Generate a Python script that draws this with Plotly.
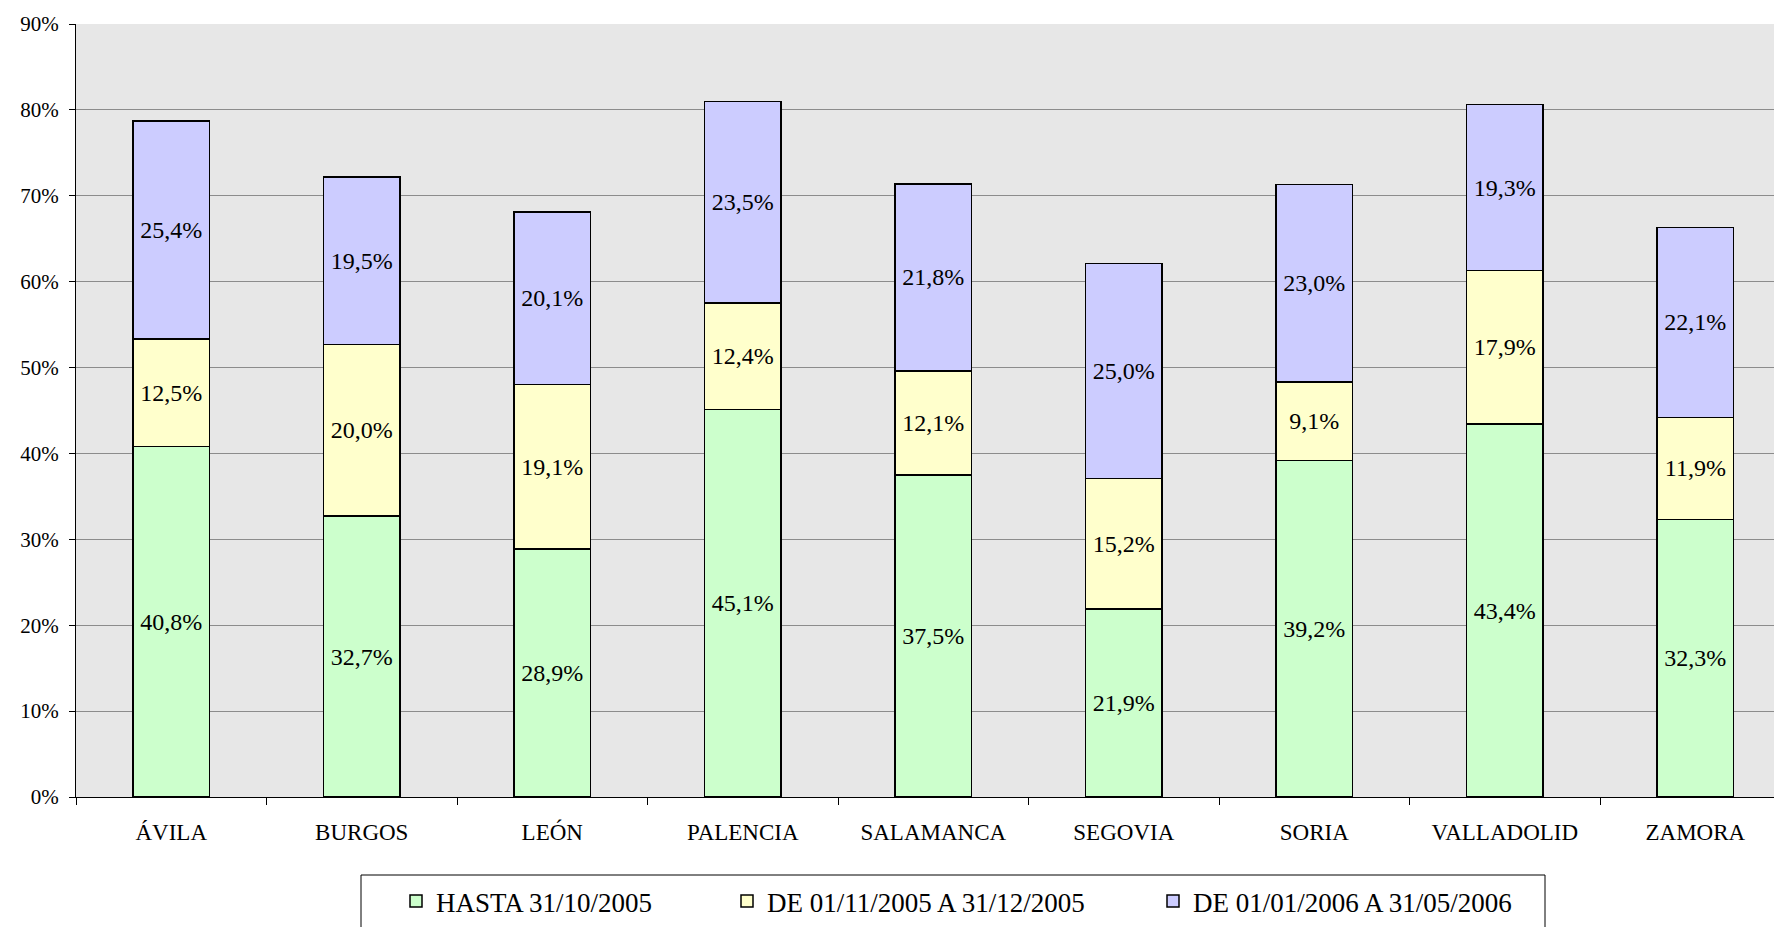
import plotly.graph_objects as go

# Provinces and shares (%) per period
provincias = ["ÁVILA", "BURGOS", "LEÓN", "PALENCIA", "SALAMANCA",
              "SEGOVIA", "SORIA", "VALLADOLID", "ZAMORA"]
hasta_oct_2005 = [40.8, 32.7, 28.9, 45.1, 37.5, 21.9, 39.2, 43.4, 32.3]
nov_dic_2005 = [12.5, 20.0, 19.1, 12.4, 12.1, 15.2, 9.1, 17.9, 11.9]
ene_may_2006 = [25.4, 19.5, 20.1, 23.5, 21.8, 25.0, 23.0, 19.3, 22.1]

series = [
    ("HASTA 31/10/2005", hasta_oct_2005, "#CCFFCC"),
    ("DE 01/11/2005 A 31/12/2005", nov_dic_2005, "#FFFFCC"),
    ("DE 01/01/2006 A 31/05/2006", ene_may_2006, "#CCCCFF"),
]

serif = "Liberation Serif, Times New Roman, serif"

# plot area in pixels
L, R, T, B = 76, 1774, 24, 797
W, H = R - L, B - T


def px_x(p):
    return (p - L) / W


def px_y(p):
    return (B - p) / H


fig = go.Figure()
legend_names = ["legend", "legend2", "legend3"]
for (name, vals, color), lg in zip(series, legend_names):
    fig.add_trace(go.Bar(
        x=provincias, y=vals, name=name, legend=lg,
        marker=dict(color=color, line=dict(color="black", width=1.5)),
        width=0.4,
        texttemplate="%{y:.1f}%",
        textposition="inside",
        insidetextanchor="middle",
        textangle=0,
        constraintext="none",
        textfont=dict(family=serif, size=24, color="black"),
    ))

legend_font = dict(family=serif, size=27, color="black")
square_left = [416, 747, 1173]
legends = {}
for lg, sq in zip(legend_names, square_left):
    legends[lg] = dict(
        orientation="h",
        x=px_x(sq - 20), xanchor="left",
        y=px_y(877), yanchor="top",
        borderwidth=0, bgcolor="rgba(0,0,0,0)",
        font=legend_font, itemwidth=30,
    )

fig.update_layout(
    barmode="stack",
    separators=",.",
    width=1774, height=927,
    margin=dict(l=L, r=1774 - R, t=T, b=927 - B),
    paper_bgcolor="white",
    plot_bgcolor="#e7e7e7",
    font=dict(family=serif, size=22, color="black"),
    showlegend=True,
    **legends,
)

# legend frame (runs off the bottom of the page, as in the original)
fig.add_shape(type="rect", xref="paper", yref="paper",
              x0=px_x(361), x1=px_x(1545), y0=px_y(875), y1=px_y(960),
              line=dict(color="black", width=1), fillcolor="rgba(0,0,0,0)")

fig.update_xaxes(
    range=[-0.5, 8.413],
    showline=True, linecolor="black", linewidth=1,
    ticks="outside", ticklen=7, tickcolor="black", tickson="boundaries",
    ticklabelstandoff=14,
    showgrid=False,
    tickfont=dict(family=serif, size=23),
)
fig.update_yaxes(
    range=[0, 90], dtick=10, ticksuffix="%",
    showline=True, linecolor="black", linewidth=1,
    ticks="outside", ticklen=6, tickcolor="black",
    ticklabelstandoff=6,
    showgrid=True, gridcolor="#8c8c8c", gridwidth=1,
    zeroline=False,
    tickfont=dict(family=serif, size=21),
)

fig.write_html("out.html", config={"displayModeBar": False},
               post_script="document.body.style.margin='0';")
